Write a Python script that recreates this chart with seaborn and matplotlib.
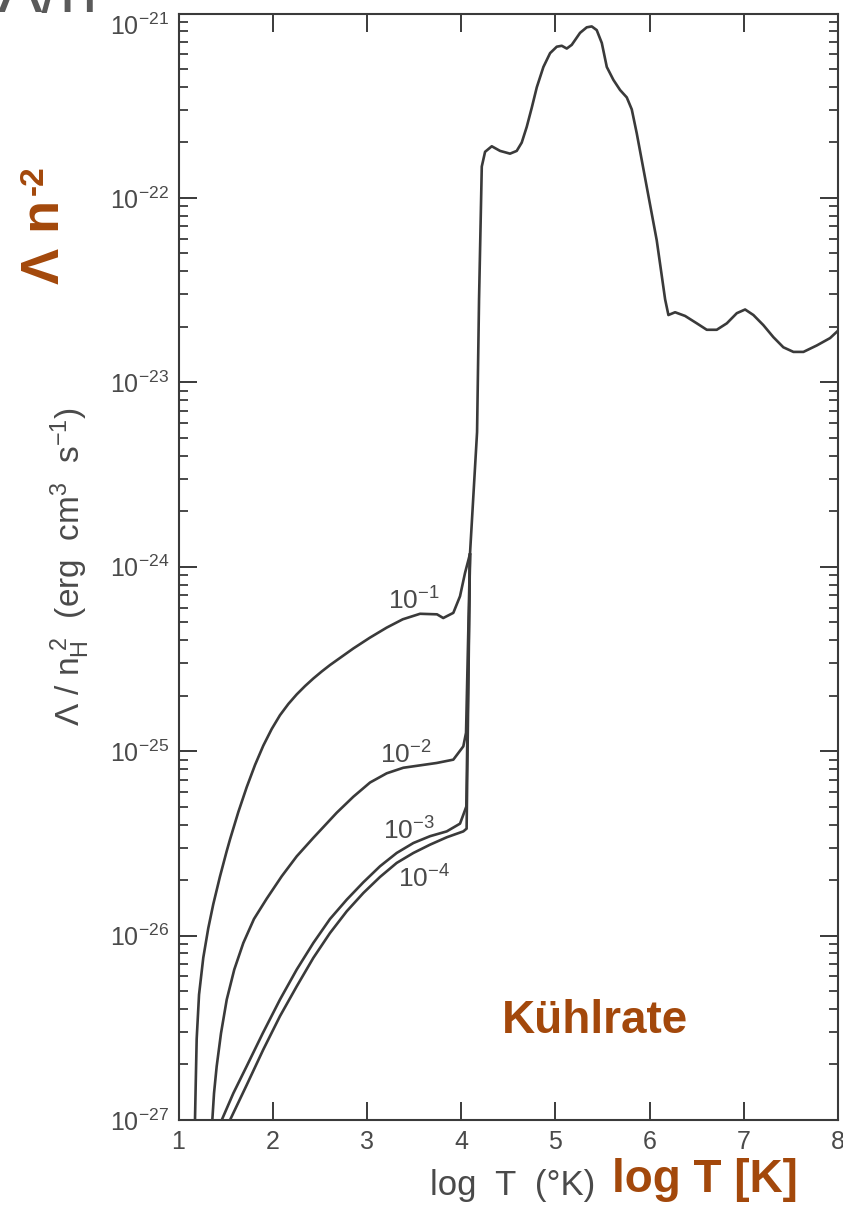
import numpy as np
import pandas as pd
import matplotlib
matplotlib.use("Agg")
import matplotlib.pyplot as plt
import seaborn as sns
from matplotlib.ticker import LogLocator, NullFormatter, NullLocator

# ---------------- data (log10 T, log10 Lambda/n_H^2) ----------------
# common high-temperature branch (all densities)
logT_common = [4.094, 4.169, 4.190, 4.219, 4.254, 4.325, 4.413, 4.519, 4.590, 4.643,
               4.696, 4.750, 4.803, 4.873, 4.944, 5.015, 5.068, 5.121, 5.174, 5.262,
               5.333, 5.386, 5.439, 5.493, 5.546, 5.616, 5.687, 5.758, 5.811, 5.864,
               5.970, 6.076, 6.165, 6.200, 6.271, 6.377, 6.501, 6.607, 6.713, 6.820,
               6.926, 7.014, 7.102, 7.208, 7.314, 7.420, 7.527, 7.633, 7.775, 7.916, 8.0]
logL_common = [-23.93, -23.27, -22.55, -21.83, -21.75, -21.72, -21.745, -21.76, -21.745, -21.70,
               -21.615, -21.51, -21.40, -21.29, -21.215, -21.18, -21.175, -21.19, -21.17, -21.105,
               -21.075, -21.07, -21.09, -21.16, -21.29, -21.36, -21.415, -21.455, -21.52, -21.65,
               -21.94, -22.23, -22.55, -22.635, -22.62, -22.64, -22.68, -22.715, -22.715, -22.68,
               -22.625, -22.605, -22.635, -22.69, -22.755, -22.81, -22.835, -22.835, -22.80, -22.76, -22.72]

# low-temperature branches, one per density n_H
logT_n1 = [1.175, 1.183, 1.193, 1.218, 1.263, 1.316, 1.369, 1.44, 1.51, 1.547, 1.635,
           1.724, 1.812, 1.900, 1.989, 2.077, 2.166, 2.255, 2.343, 2.431, 2.520, 2.608,
           2.856, 3.03, 3.21, 3.38, 3.564, 3.744, 3.81, 3.917, 3.988, 4.041, 4.094]
logL_n1 = [-27.0, -26.80, -26.56, -26.32, -26.12, -25.96, -25.83, -25.68, -25.545, -25.478,
           -25.33, -25.195, -25.075, -24.97, -24.88, -24.805, -24.744, -24.692, -24.647,
           -24.606, -24.568, -24.533, -24.443, -24.385, -24.33, -24.285, -24.255, -24.258,
           -24.278, -24.25, -24.16, -24.034, -23.93]

logT_n2 = [1.359, 1.377, 1.405, 1.451, 1.512, 1.592, 1.688, 1.801, 1.936, 2.096, 2.255,
           2.431, 2.679, 2.856, 3.033, 3.21, 3.386, 3.741, 3.917, 4.023, 4.052, 4.094]
logL_n2 = [-27.0, -26.855, -26.71, -26.53, -26.347, -26.184, -26.04, -25.91, -25.80,
           -25.678, -25.57, -25.47, -25.334, -25.247, -25.17, -25.12, -25.09, -25.064,
           -25.046, -24.974, -24.90, -23.93]

logT_n3 = [1.459, 1.582, 1.724, 1.894, 2.077, 2.255, 2.431, 2.608, 2.786, 2.962, 3.139,
           3.316, 3.493, 3.670, 3.847, 3.988, 4.023, 4.055, 4.094]
logL_n3 = [-27.0, -26.855, -26.708, -26.53, -26.347, -26.184, -26.04, -25.91, -25.805,
           -25.711, -25.624, -25.552, -25.498, -25.461, -25.435, -25.393, -25.345, -25.30,
           -23.93]

logT_n4 = [1.547, 1.724, 1.900, 2.077, 2.255, 2.431, 2.608, 2.786, 2.962, 3.139, 3.316,
           3.493, 3.670, 3.847, 4.023, 4.058, 4.094]
logL_n4 = [-27.0, -26.81, -26.618, -26.437, -26.275, -26.121, -25.986, -25.868, -25.769,
           -25.682, -25.606, -25.552, -25.507, -25.467, -25.435, -25.42, -23.93]

density_labels = [r"$10^{-1}$", r"$10^{-2}$", r"$10^{-3}$", r"$10^{-4}$"]
label_logT = [3.224, 3.139, 3.171, 3.33]
label_logL = [-24.233, -25.07, -25.48, -25.74]

xtick_values = [1, 2, 3, 4, 5, 6, 7, 8]
ytick_exps = [-27, -26, -25, -24, -23, -22, -21]

# ---------------- style ----------------
sns.set_style("ticks")
plt.rcParams["font.family"] = ["Liberation Sans", "DejaVu Sans"]
plt.rcParams["mathtext.fontset"] = "custom"
plt.rcParams["mathtext.rm"] = "Liberation Sans"
plt.rcParams["mathtext.it"] = "Liberation Sans:italic"
plt.rcParams["mathtext.bf"] = "Liberation Sans:bold"

ink = "#3a3a3a"
txt = "#4a4a4a"
orange = "#A3480B"

W, H = 843, 1207
fig = plt.figure(figsize=(W / 100, H / 100), dpi=100)
x0, x1, y0, y1 = 178.5, 838.0, 13.5, 1120.0
ax = fig.add_axes([x0 / W, 1 - y1 / H, (x1 - x0) / W, (y1 - y0) / H])

series = [(logT_common, logL_common), (logT_n1, logL_n1), (logT_n2, logL_n2),
          (logT_n3, logL_n3), (logT_n4, logL_n4)]
for t, l in series:
    df = pd.DataFrame({"logT": t, "Lambda": np.power(10.0, l)})
    sns.lineplot(data=df, x="logT", y="Lambda", sort=False, estimator=None,
                 color=ink, lw=1.9, ax=ax, solid_joinstyle="round")

ax.set_yscale("log")
ax.set_xlim(1, 8)
ax.set_ylim(1e-27, 1e-21)

ax.set_xticks(xtick_values, [str(v) for v in xtick_values])
ax.xaxis.set_minor_locator(NullLocator())
ax.set_yticks([10.0 ** e for e in ytick_exps], [r"$10^{%d}$" % e for e in ytick_exps])
ax.yaxis.set_minor_locator(LogLocator(base=10, subs=np.arange(2, 10)))
ax.yaxis.set_minor_formatter(NullFormatter())

ax.tick_params(which="major", direction="in", length=13, width=1.4, color=ink,
               top=True, right=True, labelsize=18, labelcolor=txt, pad=7)
ax.tick_params(which="minor", direction="in", length=6.5, width=1.3, color=ink,
               left=True, right=True)
for lab in ax.get_yticklabels():
    if lab.get_text() == r"$10^{-21}$":
        lab.set_va("top")
for s in ax.spines.values():
    s.set_visible(True)
    s.set_color(ink)
    s.set_linewidth(1.5)

ax.set_xlabel("")
ax.set_ylabel("")

# curve labels
for lab, t, l in zip(density_labels, label_logT, label_logL):
    ax.text(t, 10.0 ** l, lab, fontsize=19, color=txt, ha="left", va="baseline")

# axis titles of the scan
ax.text(0.506, -0.0678, "log  T  (°K)", transform=ax.transAxes, fontsize=25,
        color=txt, ha="center", va="baseline")
ax.text(-0.164, 0.5,
        r"$\Lambda\ /\ {\rm n}_{\rm H}^{\ 2}\ \ ({\rm erg\ \ cm}^{3}\ \ {\rm s}^{-1})$",
        transform=ax.transAxes, fontsize=24, color=txt, rotation=90,
        ha="center", va="center")

# overlaid annotations
fig.text(502 / W, 1 - 1033 / H, "Kühlrate", fontsize=33, fontweight="bold",
         color=orange, ha="left", va="baseline")
fig.text(612 / W, 1 - 1192 / H, "log T [K]", fontsize=33, fontweight="bold",
         color=orange, ha="left", va="baseline")
fig.text(59 / W, 1 - 284 / H, "Λ n", fontsize=39, fontweight="bold", color=orange,
         rotation=90, rotation_mode="anchor", ha="left", va="baseline")
fig.text(43 / W, 1 - 195 / H, "-2", fontsize=24, fontweight="bold", color=orange,
         rotation=90, rotation_mode="anchor", ha="left", va="baseline")
fig.text(-2 / W, 1 - 12 / H, "Λ/n", fontsize=48, color="#5a5a5a",
         ha="left", va="baseline")

fig.savefig("out.png", dpi=100, facecolor="white")
